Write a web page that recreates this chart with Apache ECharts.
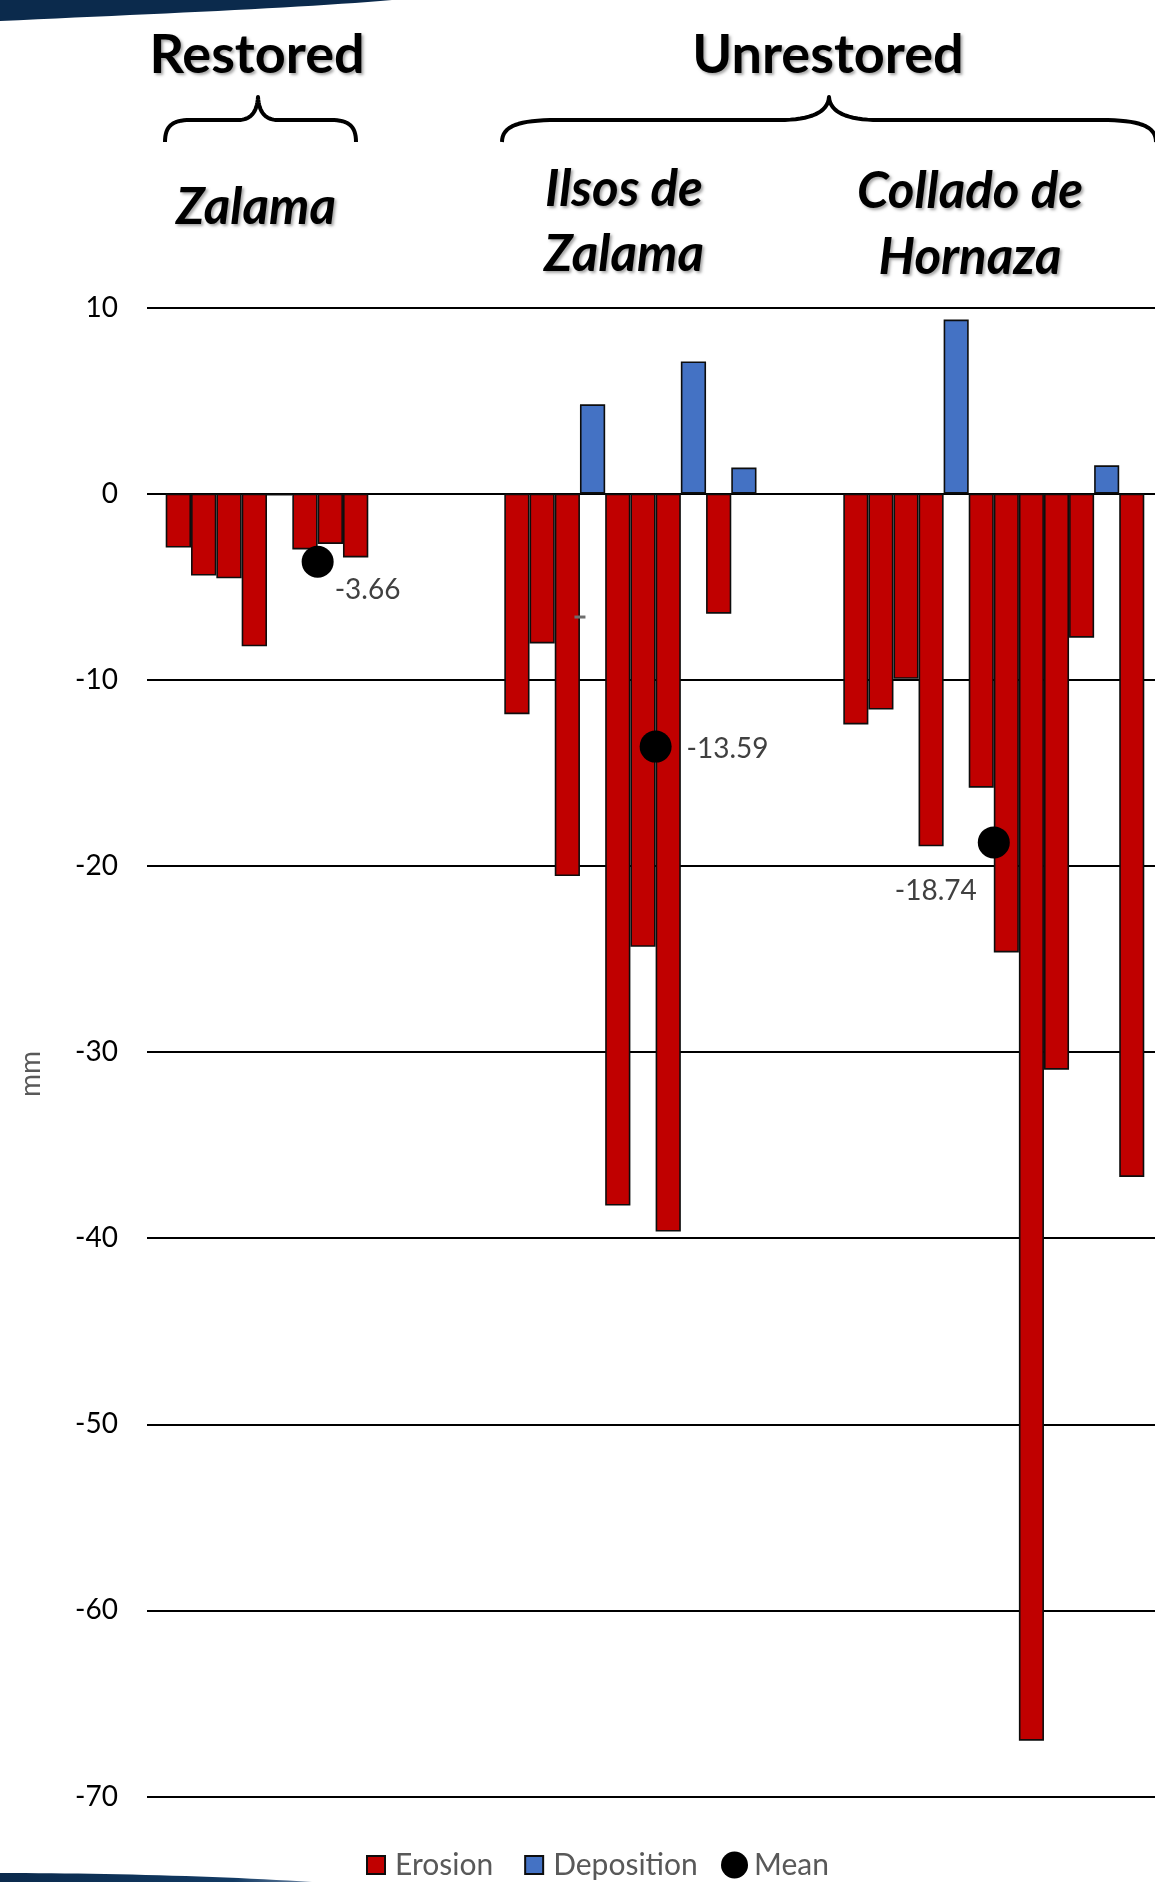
<!DOCTYPE html>
<html>
<head>
<meta charset="utf-8">
<script src="https://cdn.jsdelivr.net/npm/echarts@6/dist/echarts.min.js"></script>
<style>
  html, body { margin: 0; padding: 0; background: #ffffff; }
  #chart { width: 1155px; height: 1882px; }
</style>
</head>
<body>
<div id="chart"></div>
<script>
// Surface change per sampling point (mm); negative = erosion, positive = deposition
const siteNames = ['Zalama', 'Ilsos de Zalama', 'Collado de Hornaza'];
const zalamaChange = [-2.9, -4.4, -4.55, -8.2, -0.1, -3.0, -2.7, -3.43];
const ilsosChange = [-11.85, -8.05, -20.55, 4.8, -38.25, -24.35, -39.65, 7.1, -6.45, 1.4];
const colladoChange = [-12.4, -11.6, -9.95, -18.95, 9.35, -15.8, -24.65, -67.0, -30.95, -7.74, 1.52, -36.71];
const siteMeans = [-3.66, -13.59, -18.74];
const legendNames = ['Erosion', 'Deposition', 'Mean'];
// stray tick on the Ilsos de Zalama panel: [slot edge, value]
const ilsosTick = [3, -6.63];

const Y_MIN = -70, Y_MAX = 10, Y_STEP = 10;

const siteChanges = [zalamaChange, ilsosChange, colladoChange];
const FONT = 'Lato, "Open Sans", sans-serif';
const GRID_TOP = 307.5, GRID_BOTTOM = 85.5;
const panels = [
  { left: 165.7, width: 202.6 },
  { left: 504.3, width: 252.2 },
  { left: 843.3, width: 301 }
];
const MEAN_EDGE = 6;
const meanLabelPlacement = [
  { position: 'right', distance: 1, offset: [0, 28] },
  { position: 'right', distance: 15, offset: [0, 2] },
  { position: 'left', distance: 1, offset: [0, 49] }
];
const RED = '#c00000', BLUE = '#4472c4', EDGE = '#0d0d0d';

// background panel: gridlines, tick labels and axis title
const grids = [{ left: 147, right: 0, top: GRID_TOP, bottom: GRID_BOTTOM }];
const xAxes = [{ gridIndex: 0, type: 'value', min: 0, max: 1, show: false }];
const yAxes = [{
  gridIndex: 0, type: 'value', min: Y_MIN, max: Y_MAX, interval: Y_STEP,
  name: 'mm', nameLocation: 'middle', nameRotate: 90, nameGap: 102,
  nameTextStyle: { color: '#595959', fontSize: 28, fontFamily: FONT, padding: [0, 44, 0, 0] },
  axisLine: { show: false }, axisTick: { show: false },
  axisLabel: { margin: 29, color: '#000000', fontSize: 28, fontFamily: FONT },
  splitLine: { show: true, lineStyle: { color: '#000000', width: 2 } }
}];
const series = [];

siteChanges.forEach((vals, s) => {
  const g = grids.length;
  grids.push({ left: panels[s].left, width: panels[s].width, top: GRID_TOP, bottom: GRID_BOTTOM });
  xAxes.push({ gridIndex: g, type: 'category', show: false,
    data: vals.map((_, i) => siteNames[s] + ' ' + (i + 1)) });
  xAxes.push({ gridIndex: g, type: 'category', show: false, boundaryGap: false,
    data: Array.from({ length: vals.length + 1 }, (_, i) => String(i)) });
  yAxes.push({ gridIndex: g, type: 'value', min: Y_MIN, max: Y_MAX, show: false });
  const barAxis = xAxes.length - 2, edgeAxis = xAxes.length - 1, yIdx = yAxes.length - 1;

  series.push({
    type: 'bar', name: 'Erosion', xAxisIndex: barAxis, yAxisIndex: yIdx,
    barWidth: '100%', barGap: '-100%',
    data: vals.map(v => (v < 0 ? v : null)),
    itemStyle: { color: RED, borderColor: EDGE, borderWidth: 1.6 }
  });
  series.push({
    type: 'bar', name: 'Deposition', xAxisIndex: barAxis, yAxisIndex: yIdx,
    barWidth: '100%', barGap: '-100%',
    data: vals.map(v => (v > 0 ? v : null)),
    itemStyle: { color: BLUE, borderColor: EDGE, borderWidth: 1.6 }
  });
  if (s === 1) {
    series.push({
      type: 'scatter', name: 'tick', xAxisIndex: edgeAxis, yAxisIndex: yIdx,
      symbol: 'rect', symbolSize: [11, 3], silent: true, z: 4,
      data: [ilsosTick], itemStyle: { color: '#6e6e6e', opacity: 1 }
    });
  }
  series.push({
    type: 'scatter', name: 'Mean', xAxisIndex: edgeAxis, yAxisIndex: yIdx,
    symbol: 'circle', symbolSize: 32, z: 5,
    data: [[MEAN_EDGE, siteMeans[s]]],
    itemStyle: { color: '#000000', opacity: 1 },
    label: Object.assign({
      show: true, color: '#404040', fontSize: 28, fontFamily: FONT,
      formatter: p => p.value[1].toFixed(2)
    }, meanLabelPlacement[s])
  });
});

// sample a chain of cubic segments [[x0,y0],[c1x,c1y],[c2x,c2y],[x1,y1]] into points
function curvePoints(segments, steps) {
  const pts = [];
  segments.forEach((seg, k) => {
    const [p0, p1, p2, p3] = seg;
    for (let i = (k === 0 ? 0 : 1); i <= steps; i++) {
      const t = i / steps, u = 1 - t;
      const a = u * u * u, b = 3 * u * u * t, c = 3 * u * t * t, d = t * t * t;
      pts.push([a * p0[0] + b * p1[0] + c * p2[0] + d * p3[0],
                a * p0[1] + b * p1[1] + c * p2[1] + d * p3[1]]);
    }
  });
  return pts;
}
function straight(a, b) { return [a, a, b, b]; }
function brace(x0, x1, tip, yBase, yBar, yTip, r, tr) {
  return curvePoints([
    [[x0, yBase], [x0, yBar + 6], [x0 + r * 0.3, yBar], [x0 + r, yBar]],
    straight([x0 + r, yBar], [tip - tr, yBar]),
    [[tip - tr, yBar], [tip - tr * 0.35, yBar], [tip - 1, yBar - 8], [tip, yTip]],
    [[tip, yTip], [tip + 1, yBar - 8], [tip + tr * 0.35, yBar], [tip + tr, yBar]],
    straight([tip + tr, yBar], [x1 - r, yBar]),
    [[x1 - r, yBar], [x1 - r * 0.3, yBar], [x1, yBar + 6], [x1, yBase]]
  ], 16);
}

const titleShadow = { textShadowColor: 'rgba(0,0,0,0.35)', textShadowBlur: 3, textShadowOffsetX: 2, textShadowOffsetY: 2 };
function label(text, x, y, font, extra) {
  return {
    type: 'text', x: x, y: y, z: 20,
    style: Object.assign({
      text: text, font: font, fill: '#000000',
      align: 'center', verticalAlign: 'middle',
      textAlign: 'center', textVerticalAlign: 'middle'
    }, titleShadow, extra || {})
  };
}
const headFont = 'bold 54px Lato';
const siteFont = 'italic bold 51px Lato';

const topBanner = [[0, 0], [392, 0]].concat(curvePoints([[[392, 0], [300, 8], [150, 14], [0, 21]]], 24));
const bottomBanner = curvePoints([[[0, 1873], [100, 1873], [220, 1876], [312, 1882]]], 24).concat([[0, 1882]]);

const graphic = [
  { type: 'polygon', z: 1, shape: { points: topBanner }, style: { fill: '#0b2a4c' } },
  { type: 'polygon', z: 1, shape: { points: bottomBanner },
    style: { fill: { type: 'linear', x: 0, y: 0, x2: 1, y2: 0, colorStops: [
      { offset: 0, color: '#0b2a4c' }, { offset: 0.75, color: '#123a63' }, { offset: 1, color: '#6b84a3' }] } } },
  { type: 'polyline', z: 20, shape: { points: brace(165, 356, 258, 142, 120, 97, 25, 20) },
    style: { fill: null, stroke: '#000000', lineWidth: 4, lineJoin: 'round' } },
  { type: 'polyline', z: 20, shape: { points: brace(502, 1156, 829, 142, 120, 97, 55, 50) },
    style: { fill: null, stroke: '#000000', lineWidth: 4, lineJoin: 'round' } },
  label('Restored', 257, 56, headFont),
  label('Unrestored', 828, 56, headFont),
  label('Zalama', 256, 208, siteFont),
  label('Ilsos de\nZalama', 624, 222, siteFont, { lineHeight: 65 }),
  label('Collado de\nHornaza', 970, 225, siteFont, { lineHeight: 66 })
];

const legendText = { color: '#595959', fontSize: 30, fontFamily: FONT };
const option = {
  animation: false,
  backgroundColor: '#ffffff',
  grid: grids,
  xAxis: xAxes,
  yAxis: yAxes,
  series: series,
  graphic: graphic,
  legend: [
    {
      data: [{ name: legendNames[0], icon: 'rect' }, { name: legendNames[1], icon: 'rect' }],
      left: 361, top: 1845, itemWidth: 18, itemHeight: 18, itemGap: 31,
      textStyle: Object.assign({ padding: [0, 0, 0, 5] }, legendText)
    },
    {
      data: [{ name: legendNames[2], icon: 'circle' }],
      left: 716, top: 1845, itemWidth: 27, itemHeight: 27,
      textStyle: Object.assign({ padding: [0, 0, 0, 1] }, legendText)
    }
  ]
};

const chart = echarts.init(document.getElementById('chart'), null, { renderer: 'canvas' });
chart.setOption(option);
</script>
</body>
</html>
